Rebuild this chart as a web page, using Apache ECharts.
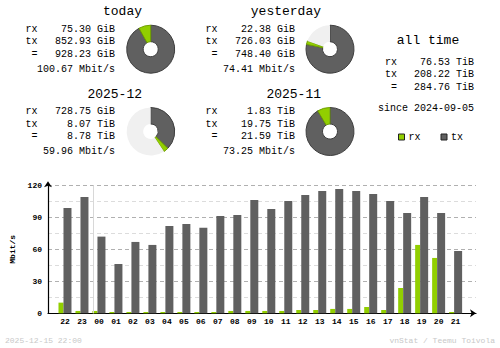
<!DOCTYPE html>
<html>
<head>
<meta charset="utf-8">
<script src="https://cdn.jsdelivr.net/npm/echarts@6.0.0/dist/echarts.min.js"></script>
<style>
  html, body { margin: 0; padding: 0; background: #fff; }
  #chart { width: 500px; height: 348px; }
</style>
</head>
<body>
<div id="chart"></div>
<script>
// Summary periods
const periods = ['today', 'yesterday', '2025-12', '2025-11'];
const rxValues = [75.30, 22.38, 728.75, 1.83];
const rxUnits = ['GiB', 'GiB', 'GiB', 'TiB'];
const txValues = [852.93, 726.03, 8.07, 19.75];
const txUnits = ['GiB', 'GiB', 'TiB', 'TiB'];
const totalValues = [928.23, 748.40, 8.78, 21.59];
const totalUnits = ['GiB', 'GiB', 'TiB', 'TiB'];
const avgRates = [100.67, 74.41, 59.96, 73.25];

// All-time totals
const allTimeRx = 76.53;
const allTimeTx = 208.22;
const allTimeTotal = 284.76;
const allTimeUnit = 'TiB';
const sinceDate = '2024-09-05';

// Hourly average rates, Mbit/s
const hours = ['22', '23', '00', '01', '02', '03', '04', '05', '06', '07', '08', '09',
               '10', '11', '12', '13', '14', '15', '16', '17', '18', '19', '20', '21'];
const rxRate = [10.0, 2.2, 2.2, 1.2, 1.2, 1.2, 1.2, 1.2, 1.2, 1.2, 2.2, 2.2,
                2.2, 2.2, 3.1, 3.1, 4.1, 4.1, 5.9, 3.1, 23.7, 64.1, 51.9, 1.2];
const txRate = [98.7, 109.1, 71.9, 46.2, 66.9, 64.1, 81.9, 83.7, 80.3, 91.2, 92.2, 106.2,
                97.8, 105.3, 110.9, 114.7, 116.6, 114.7, 111.9, 105.3, 94.1, 109.1, 94.1, 58.4];
const rateTicks = [0, 30, 60, 90, 120];

const footerLeft = '2025-12-15 22:00';
const footerRight = 'vnStat / Teemu Toivola';

// ---- styling ----
const RX = '#92cf00', RX_EDGE = '#6f9f00';
const TX = '#606060', TX_EDGE = '#3e3e3e';
const PIE_BG = '#f0f0f0';
const MONO = '"Liberation Mono", "DejaVu Sans Mono", monospace';

const toGiB = (v, u) => (u === 'TiB' ? v * 1024 : v);
const fmt = (v, u) => v.toFixed(2) + ' ' + u;

// block layout: column anchors and row anchors
const cols = [
  { labelRight: 37.5, valueRight: 115, titleRight: 142, pieX: 150.7 },
  { labelRight: 217.5, valueRight: 295, titleRight: 321, pieX: 330 }
];
const rows = [{ titleY: 11.7 }, { titleY: 94 }];
const lineOffsets = [17.6, 30.1, 42.6, 57.8];
const pieOffset = 37.5;

const graphics = [];
const pieSeries = [];

function txt(x, y, text, size, align, fill, weight) {
  graphics.push({
    type: 'text', x: x, y: y, silent: true,
    style: { text: text, font: (weight || 'normal') + ' ' + size + 'px ' + MONO,
             fill: fill || '#000', align: align, verticalAlign: 'middle' }
  });
}

periods.forEach((name, i) => {
  const c = cols[i % 2], r = rows[Math.floor(i / 2)];
  txt(c.titleRight, r.titleY, name, 13, 'right');
  const ys = lineOffsets.map(o => r.titleY + o);
  txt(c.labelRight, ys[0], 'rx', 10, 'right');
  txt(c.labelRight, ys[1], 'tx', 10, 'right');
  txt(c.labelRight, ys[2], '=', 10, 'right');
  txt(c.valueRight, ys[0], fmt(rxValues[i], rxUnits[i]), 10, 'right');
  txt(c.valueRight, ys[1], fmt(txValues[i], txUnits[i]), 10, 'right');
  txt(c.valueRight, ys[2], fmt(totalValues[i], totalUnits[i]), 10, 'right');
  txt(c.valueRight, ys[3], avgRates[i].toFixed(2) + ' Mbit/s', 10, 'right');

  // pies in the same row share one scale: the larger total fills the circle
  const row = Math.floor(i / 2);
  const pairMax = Math.max(toGiB(totalValues[row * 2], totalUnits[row * 2]),
                           toGiB(totalValues[row * 2 + 1], totalUnits[row * 2 + 1]));
  const rxG = toGiB(rxValues[i], rxUnits[i]);
  const txG = toGiB(txValues[i], txUnits[i]);
  const rest = Math.max(0, pairMax - rxG - txG);
  pieSeries.push({
    type: 'pie', silent: true, animation: false,
    center: [c.pieX, r.titleY + pieOffset],
    radius: [7.5, 24],
    startAngle: 90, clockwise: true,
    label: { show: false }, labelLine: { show: false },
    emphasis: { disabled: true },
    data: [
      { name: 'tx', value: txG, itemStyle: { color: TX, borderColor: TX_EDGE, borderWidth: 1 } },
      { name: 'rx', value: rxG, itemStyle: { color: RX, borderColor: RX_EDGE, borderWidth: 1 } },
      { name: 'unused', value: rest, itemStyle: { color: PIE_BG, borderWidth: 0 } }
    ]
  });
});

// all-time block
txt(428, 40, 'all time', 13, 'center');
txt(397, 62.3, 'rx', 10, 'right');
txt(397, 74.6, 'tx', 10, 'right');
txt(397, 87.5, '=', 10, 'right');
txt(474, 62.3, fmt(allTimeRx, allTimeUnit), 10, 'right');
txt(474, 74.6, fmt(allTimeTx, allTimeUnit), 10, 'right');
txt(474, 87.5, fmt(allTimeTotal, allTimeUnit), 10, 'right');
txt(474, 108.3, 'since ' + sinceDate, 10, 'right');

// footer
txt(5, 340, footerLeft, 8, 'left', '#c8c8c8');
txt(495, 340, footerRight, 8, 'right', '#c8c8c8');

const dayBreak = hours.indexOf('00') - 0.5;

const chart = echarts.init(document.getElementById('chart'), null, { renderer: 'svg' });
chart.setOption({
  animation: false,
  backgroundColor: '#fff',
  legend: {
    data: ['rx', 'tx'],
    left: 393, top: 127,
    icon: 'rect', itemWidth: 6, itemHeight: 6, itemGap: 20,
    selectedMode: false,
    itemStyle: { borderColor: '#222', borderWidth: 1 },
    textStyle: { fontFamily: MONO, fontSize: 10, color: '#000', padding: [0, 0, 0, -1] }
  },
  grid: { left: 48, right: 24, top: 185.3, bottom: 34.7 },
  xAxis: {
    type: 'value', min: -1, max: 24.2, interval: 1,
    splitLine: { show: false },
    axisTick: { show: false },
    axisLine: { show: true, onZero: false, lineStyle: { color: '#000', width: 1.2 },
                symbol: ['none', 'arrow'], symbolSize: [6, 6] },
    axisLabel: {
      margin: 4, color: '#000', fontFamily: MONO, fontSize: 8, fontWeight: 'bold',
      formatter: v => (Number.isInteger(v) && hours[v] !== undefined ? hours[v] : '')
    }
  },
  yAxis: {
    type: 'value', min: rateTicks[0], max: rateTicks[rateTicks.length - 1], interval: 30,
    name: 'Mbit/s', nameLocation: 'middle', nameGap: 30,
    nameTextStyle: { fontFamily: MONO, fontSize: 8, fontWeight: 'bold', color: '#000' },
    axisTick: { show: false },
    axisLine: { show: true, onZero: false, lineStyle: { color: '#000', width: 1.2 },
                symbol: ['none', 'arrow'], symbolSize: [6, 6], symbolOffset: [0, 4] },
    axisLabel: { margin: 6, color: '#000', fontFamily: MONO, fontSize: 8, fontWeight: 'bold' },
    splitLine: { show: true, lineStyle: { color: '#b0b0b0', type: [4, 3], width: 1 } },
    minorTick: { show: false, splitNumber: 2 },
    minorSplitLine: { show: true, lineStyle: { color: '#dcdcdc', type: [4, 3], width: 1 } }
  },
  series: [
    {
      name: 'rx', type: 'bar', barWidth: 5, barGap: 0, silent: true,
      itemStyle: { color: RX },
      data: rxRate.map((v, i) => [i, v])
    },
    {
      name: 'tx', type: 'bar', barWidth: 8, barGap: 0, silent: true,
      itemStyle: { color: TX },
      data: txRate.map((v, i) => [i, v]),
      markLine: {
        silent: true, symbol: ['none', 'none'], label: { show: false },
        lineStyle: { color: '#d8d8d8', type: 'solid', width: 1 },
        data: [{ xAxis: dayBreak }]
      }
    }
  ].concat(pieSeries),
  graphic: graphics
});
</script>
</body>
</html>
